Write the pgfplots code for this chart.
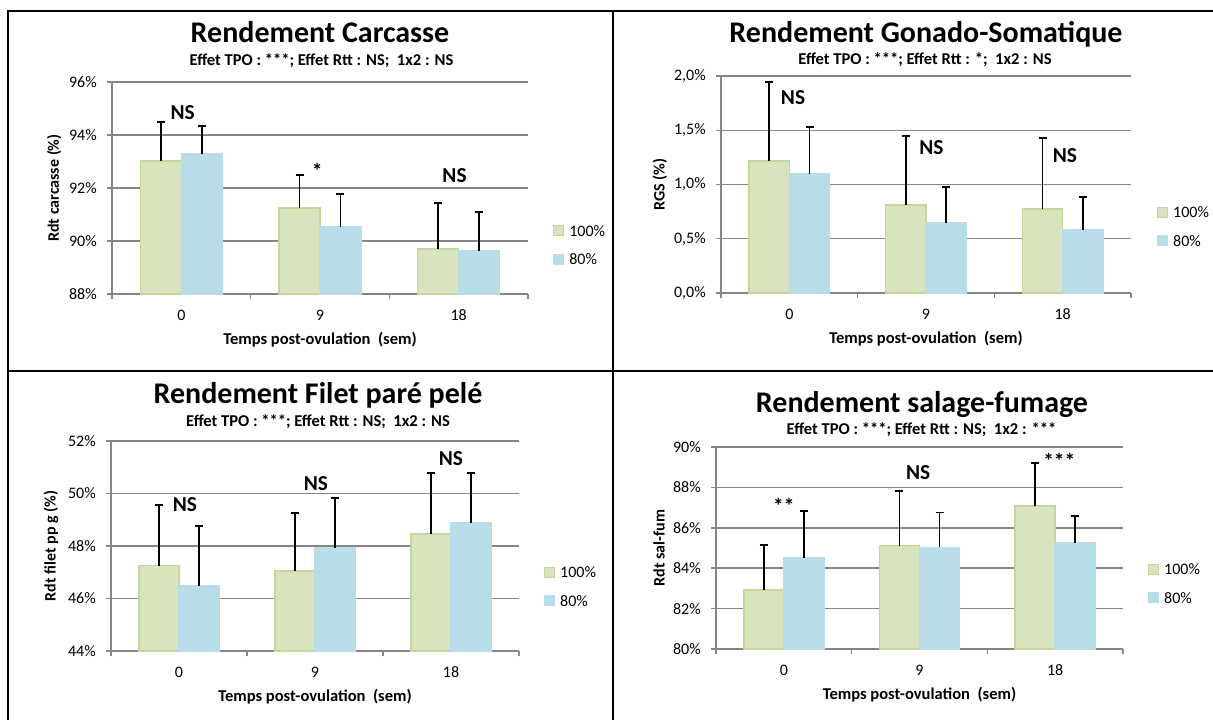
\documentclass[border=0pt]{standalone}
\usepackage{fontspec}
\setmainfont{Carlito}
\usepackage{pgfplots}
\pgfplotsset{compat=1.18}

\definecolor{gfill}{HTML}{D7E4BD}
\definecolor{gdraw}{HTML}{C3D69B}
\definecolor{bfill}{HTML}{B7DEE8}
\definecolor{gridc}{HTML}{868686}

\newcommand\fT{\bfseries\fontsize{22.5}{24}\selectfont}
\newcommand\fS{\bfseries\fontsize{12.4}{13}\selectfont}
\newcommand\fA{\bfseries\fontsize{16}{17}\selectfont}

\pgfplotsset{
  rdt/.style={
    scale only axis, clip=false,
    axis x line*=bottom, axis y line*=left,
    axis line style={draw=gridc, line width=1.1pt},
    xmin=-0.5, xmax=2.5,
    xtick={0,1,2}, xticklabels={0,9,18},
    minor xtick={-0.5,0.5,1.5,2.5},
    tick align=outside,
    major tick length=3.75pt, minor tick length=3.75pt,
    major x tick style={draw=none},
    minor x tick style={draw=gridc, line width=1.1pt},
    major y tick style={draw=gridc, line width=1.1pt},
    ymajorgrids, major grid style={draw=gridc, line width=1.1pt},
    tick label style={font=\fontsize{12}{12}\selectfont, black},
    xticklabel style={anchor=base, inner sep=0pt, yshift=-15.75pt},
    yticklabel style={anchor=east, inner sep=0pt, xshift=-7.5pt},
    xlabel={Temps post-ovulation\ \ (sem)},
    xlabel style={font=\bfseries\fontsize{12.4}{13}\selectfont, at={(axis description cs:0.5,0)}, anchor=center, yshift=-34.5pt},
    ylabel style={font=\bfseries\fontsize{12}{12}\selectfont, anchor=center},
    legend cell align=left,
    legend style={draw=none, fill=none, inner sep=0pt, font=\fontsize{12}{12}\selectfont,
      nodes={inner sep=0pt, text depth=0pt}, column sep=3.75pt, row sep=13pt, anchor=west},
  },
  sqleg/.style={legend image code/.code={\draw[##1, line width=0.8pt] (0pt,-3.75pt) rectangle (7.5pt,3.75pt);}},
  errb/.style={/pgfplots/error bars/y dir=plus, /pgfplots/error bars/y explicit,
    /pgfplots/error bars/error bar style={black, line width=1.4pt},
    /pgfplots/error bars/error mark options={rotate=90, black, line width=1.4pt, mark size=3pt}},
  g100/.style={ybar, bar width=0.295, bar shift=0pt, fill=gfill, draw=gdraw, line width=1.1pt, errb, sqleg},
  b80/.style={ybar, bar width=0.295, bar shift=0pt, fill=bfill, draw=bfill, line width=1.1pt, errb, sqleg},
}

\begin{document}
\begin{tikzpicture}
\begin{scope}[x=0.75pt, y=-0.75pt]
  \coordinate (A1) at (112,294);
  \coordinate (A2) at (721,293);
  \coordinate (A3) at (111,651);
  \coordinate (A4) at (716,649);
  \draw[line width=1.8pt] (8,720) -- (8,11) -- (1213,11);
  \draw[line width=1.8pt] (613,11) -- (613,720);
  \draw[line width=1.8pt] (8,371) -- (1213,371);
  \node[anchor=base, font=\fT] at (320,43) {Rendement Carcasse};
  \node[anchor=base, font=\fS] at (321.5,66) {Effet TPO : ***; Effet Rtt : NS;\ \ 1x2 : NS};
  \node[anchor=base, font=\fT] at (926,43) {Rendement Gonado-Somatique};
  \node[anchor=base, font=\fS] at (925,65) {Effet TPO : ***; Effet Rtt : *;\ \ 1x2 : NS};
  \node[anchor=base, font=\fT] at (318,403) {Rendement Filet paré pelé};
  \node[anchor=base, font=\fS] at (318,426) {Effet TPO : ***; Effet Rtt : NS;\ \ 1x2 : NS};
  \node[anchor=base, font=\fT] at (922,412) {Rendement salage-fumage};
  \node[anchor=base, font=\fS] at (921.5,434) {Effet TPO : ***; Effet Rtt : NS;\ \ 1x2 : ***};
\end{scope}

% Panel 1
\begin{axis}[rdt, at={(A1)}, anchor=south west, width=312pt, height=159pt,
  ymin=88, ymax=96, ytick={88,90,92,94,96},
  yticklabels={88\%,90\%,92\%,94\%,96\%},
  ylabel={Rdt carcasse (\%)}, ylabel style={at={(axis description cs:-0.139,0.5)}},
  legend style={at={(axis description cs:1.06,0.231)}}]
\addplot[g100] table[x=x, y=y, y error=e, row sep=\\] {x y e\\ -0.1475 93.02 1.47\\ 0.8525 91.25 1.24\\ 1.8525 89.70 1.72\\};
\addlegendentry{100\%}
\addplot[b80] table[x=x, y=y, y error=e, row sep=\\] {x y e\\ 0.1475 93.28 1.07\\ 1.1475 90.53 1.24\\ 2.1475 89.63 1.47\\};
\addlegendentry{80\%}
\node[anchor=base, font=\fA] at (axis cs:0.01,94.60) {NS};
\node[anchor=base, font=\fA] at (axis cs:0.98,92.34) {*};
\node[anchor=base, font=\fA] at (axis cs:1.97,92.19) {NS};
\end{axis}

% Panel 2
\begin{axis}[rdt, at={(A2)}, anchor=south west, width=307.5pt, height=162.75pt,
  ymin=0, ymax=2, ytick={0,0.5,1,1.5,2},
  yticklabels={{0,0\%},{0,5\%},{1,0\%},{1,5\%},{2,0\%}},
  ylabel={RGS (\%)}, ylabel style={at={(axis description cs:-0.149,0.5)}},
  legend style={at={(axis description cs:1.063,0.306)}}]
\addplot[g100] table[x=x, y=y, y error=e, row sep=\\] {x y e\\ -0.1475 1.217 0.728\\ 0.8525 0.810 0.637\\ 1.8525 0.774 0.656\\};
\addlegendentry{100\%}
\addplot[b80] table[x=x, y=y, y error=e, row sep=\\] {x y e\\ 0.1475 1.097 0.433\\ 1.1475 0.645 0.332\\ 2.1475 0.580 0.305\\};
\addlegendentry{80\%}
\node[anchor=base, font=\fA] at (axis cs:0.027,1.733) {NS};
\node[anchor=base, font=\fA] at (axis cs:1.04,1.272) {NS};
\node[anchor=base, font=\fA] at (axis cs:2.016,1.207) {NS};
\end{axis}

% Panel 3
\begin{axis}[rdt, at={(A3)}, anchor=south west, width=306pt, height=157.5pt,
  ymin=44, ymax=52, ytick={44,46,48,50,52},
  yticklabels={44\%,46\%,48\%,50\%,52\%},
  ylabel={Rdt filet pp g (\%)}, ylabel style={at={(axis description cs:-0.147,0.5)}},
  legend style={at={(axis description cs:1.061,0.307)}}]
\addplot[g100] table[x=x, y=y, y error=e, row sep=\\] {x y e\\ -0.1475 47.25 2.31\\ 0.8525 47.05 2.20\\ 1.8525 48.46 2.33\\};
\addlegendentry{100\%}
\addplot[b80] table[x=x, y=y, y error=e, row sep=\\] {x y e\\ 0.1475 46.49 2.28\\ 1.1475 47.92 1.90\\ 2.1475 48.89 1.90\\};
\addlegendentry{80\%}
\node[anchor=base, font=\fA] at (axis cs:0.044,49.30) {NS};
\node[anchor=base, font=\fA] at (axis cs:1.007,50.13) {NS};
\node[anchor=base, font=\fA] at (axis cs:2.0,51.05) {NS};
\end{axis}

% Panel 4
\begin{axis}[rdt, at={(A4)}, anchor=south west, width=305.25pt, height=151.5pt,
  ymin=80, ymax=90, ytick={80,82,84,86,88,90},
  yticklabels={80\%,82\%,84\%,86\%,88\%,90\%},
  ylabel={Rdt sal-fum}, ylabel style={at={(axis description cs:-0.140,0.5)}},
  legend style={at={(axis description cs:1.061,0.324)}}]
\addplot[g100] table[x=x, y=y, y error=e, row sep=\\] {x y e\\ -0.1475 82.92 2.25\\ 0.8525 85.12 2.69\\ 1.8525 87.07 2.12\\};
\addlegendentry{100\%}
\addplot[b80] table[x=x, y=y, y error=e, row sep=\\] {x y e\\ 0.1475 84.51 2.31\\ 1.1475 85.03 1.73\\ 2.1475 85.25 1.34\\};
\addlegendentry{80\%}
\node[anchor=base, font=\fA] at (axis cs:0.0,86.73) {**};
\node[anchor=base, font=\fA] at (axis cs:0.99,88.37) {NS};
\node[anchor=base, font=\fA] at (axis cs:2.03,88.96) {***};
\end{axis}

\begin{scope}[x=0.75pt, y=-0.75pt]
  \pgfresetboundingbox
  \path[use as bounding box] (0,0) rectangle (1213,720);
\end{scope}
\end{tikzpicture}
\end{document}
